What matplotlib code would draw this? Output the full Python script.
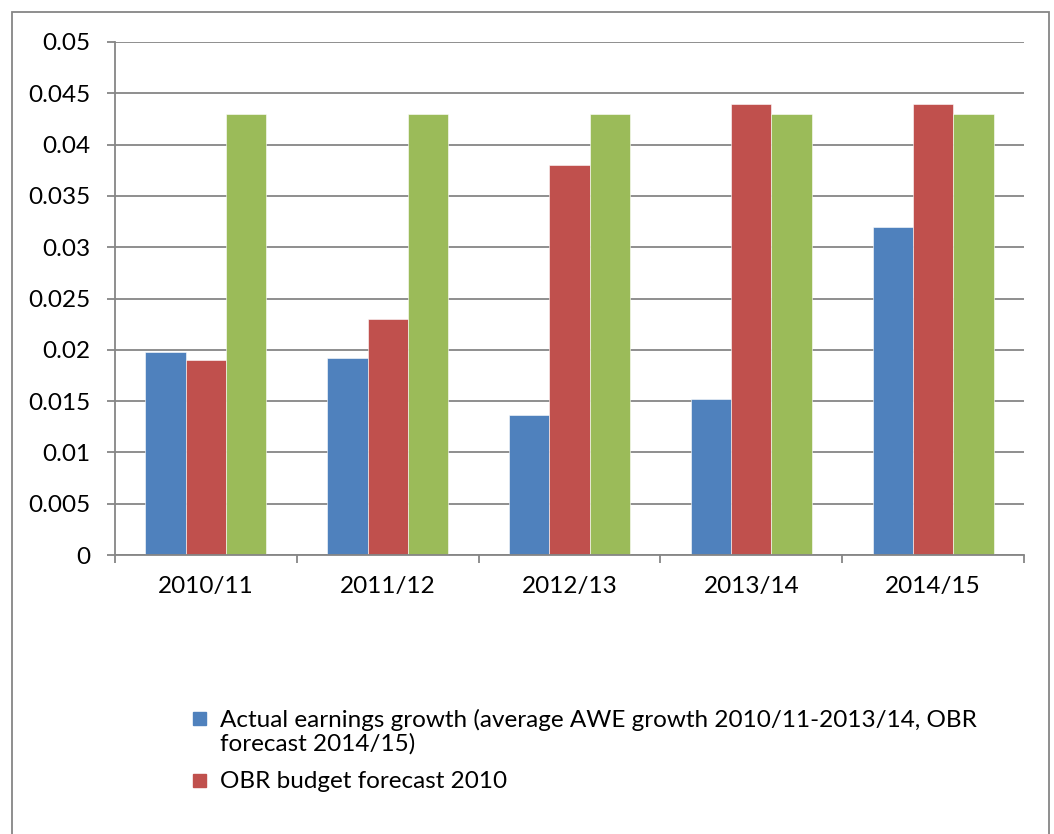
import numpy as np
import matplotlib.pyplot as plt
from matplotlib.patches import Rectangle

plt.rcParams["font.family"] = ["Lato", "DejaVu Sans"]

years = ["2010/11", "2011/12", "2012/13", "2013/14", "2014/15"]
actual_growth = [0.0198, 0.0192, 0.01365, 0.0152, 0.032]
obr_budget_2010 = [0.019, 0.023, 0.038, 0.044, 0.044]
third_series = [0.043, 0.043, 0.043, 0.043, 0.043]

legend_lines = [
    ["Actual earnings growth (average AWE growth 2010/11-2013/14, OBR", "forecast 2014/15)"],
    ["OBR budget forecast 2010"],
]

blue = "#4F81BD"
red = "#C0504D"
green = "#9BBB59"
grey = "#868686"
W, H = 1054, 834
fs = 17.5

fig = plt.figure(figsize=(W / 100, H / 100), dpi=100)
ax = fig.add_axes([115 / W, 1 - 555 / H, (1024 - 115) / W, (555 - 42) / H])

x = np.arange(len(years))
w = 0.222
ax.bar(x - w, actual_growth, w, color=blue, edgecolor="white", linewidth=0.4)
ax.bar(x, obr_budget_2010, w, color=red, edgecolor="white", linewidth=0.4)
ax.bar(x + w, third_series, w, color=green, edgecolor="white", linewidth=0.4)

ax.set_xlim(-0.5, len(years) - 0.5)
ax.set_ylim(0, 0.05)
yt = np.arange(0, 0.0501, 0.005)
ax.set_yticks(yt)
ax.set_yticklabels(["0"] + [f"{v:g}" for v in yt[1:]])
ax.yaxis.grid(True, color=grey, linewidth=1.3)
ax.set_axisbelow(True)

ax.set_xticks(x)
ax.set_xticklabels(years)
ax.set_xticks(np.arange(-0.5, len(years)), minor=True)
ax.tick_params(axis="x", which="major", length=0, pad=15, labelsize=fs)
ax.tick_params(axis="x", which="minor", length=6, color=grey, width=1.3, direction="out")
ax.tick_params(axis="y", length=6, color=grey, width=1.3, pad=12, labelsize=fs)

for s in ["top", "right"]:
    ax.spines[s].set_visible(False)
for s in ["left", "bottom"]:
    ax.spines[s].set_color(grey)
    ax.spines[s].set_linewidth(1.3)

# legend drawn by hand so the marker sits on the first text line
entry_y = [718, 780]
for col, lines, y0 in zip([blue, red], legend_lines, entry_y):
    fig.patches.append(Rectangle((193 / W, 1 - (y0 + 7) / H), 13 / W, 13 / H,
                                 transform=fig.transFigure, color=col))
    for i, line in enumerate(lines):
        fig.text(220 / W, 1 - (y0 + 24 * i) / H, line, fontsize=fs, va="center_baseline")

fig.patches.append(Rectangle((12 / W, -0.05), (1049 - 12) / W, 1.05 - 12 / H,
                             transform=fig.transFigure, fill=False, edgecolor=grey,
                             linewidth=1.3))

fig.savefig("out.png", dpi=100)
